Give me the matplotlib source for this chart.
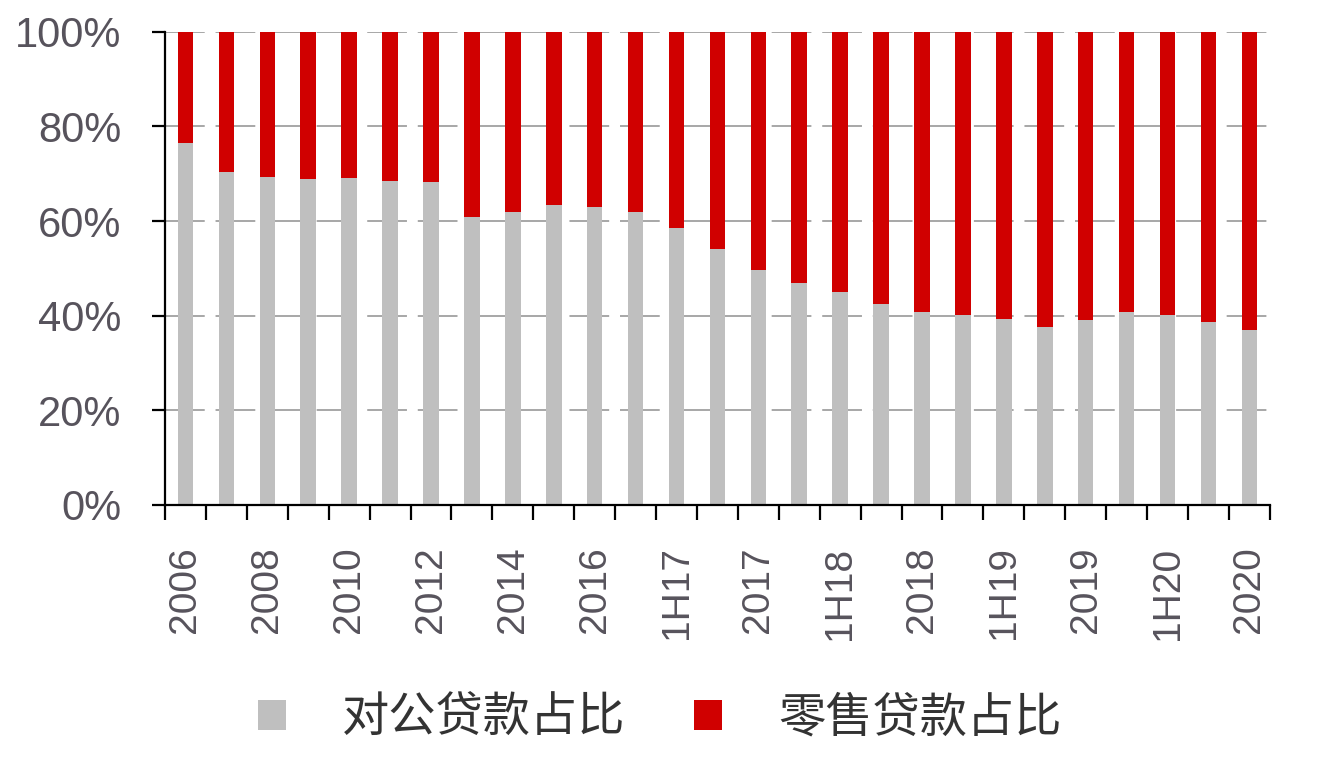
import numpy as np
import matplotlib
matplotlib.use('Agg')
import matplotlib.pyplot as plt
from matplotlib.patches import Patch

plt.rcParams['font.family'] = ['Liberation Sans', 'Noto Sans CJK SC', 'DejaVu Sans']

# 期间（隐藏标签的季度期间也作为类别）
periods = ['2006', '2007', '2008', '2009', '2010', '2011', '2012', '2013', '2014',
           '2015', '2016', '1Q17', '1H17', '3Q17', '2017', '1Q18', '1H18', '3Q18',
           '2018', '1Q19', '1H19', '3Q19', '2019', '1Q20', '1H20', '3Q20', '2020']
tick_labels = [p if i % 2 == 0 else '' for i, p in enumerate(periods)]

# 对公贷款占比 (%)
corporate = [76.5, 70.3, 69.4, 68.8, 69.1, 68.4, 68.2, 60.9, 61.9, 63.4, 62.9,
             61.9, 58.6, 54.0, 49.6, 46.9, 44.9, 42.4, 40.8, 40.1, 39.3, 37.7,
             39.0, 40.8, 40.2, 38.6, 36.9]
# 零售贷款占比 (%)
retail = [100 - v for v in corporate]

series_names = ['对公贷款占比', '零售贷款占比']
GRAY = '#BFBFBF'
RED = '#D00000'
TXT = '#57535C'

fig = plt.figure(figsize=(13.2, 7.58), dpi=100)
ax = fig.add_axes([0.125, 0.334, 0.837, 0.624])

x = np.arange(len(periods))
ax.bar(x, corporate, width=0.38, color=GRAY, zorder=2)
ax.bar(x, retail, width=0.38, bottom=corporate, color=RED, zorder=2)

ax.set_xlim(-0.5, len(periods) - 0.5)
ax.set_ylim(0, 100)

ax.set_yticks(np.arange(0, 101, 20))
ax.set_yticklabels([f'{v}%' for v in range(0, 101, 20)])
ax.yaxis.grid(True, color='#A0A0A0', linestyle=(0, (22, 6)), linewidth=1.3, zorder=1)
ax.set_axisbelow(True)

ax.set_xticks(x)
ax.set_xticklabels(tick_labels, rotation=90)
ax.set_xticks(np.arange(-0.5, len(periods), 1), minor=True)
ax.tick_params(axis='x', which='major', length=0, pad=30, labelsize=28, labelcolor=TXT)
ax.tick_params(axis='x', which='minor', length=11, width=1.6, direction='out', color='black')
ax.tick_params(axis='y', length=9.5, width=1.6, direction='out', color='black',
               labelsize=30, labelcolor=TXT, pad=22)

for side in ['top', 'right']:
    ax.spines[side].set_visible(False)
for side in ['left', 'bottom']:
    ax.spines[side].set_linewidth(1.6)
    ax.spines[side].set_color('black')

handles = [Patch(facecolor=GRAY, edgecolor='none'), Patch(facecolor=RED, edgecolor='none')]
fig.legend(handles, series_names, loc='center', bbox_to_anchor=(0.5, 0.051), ncol=2,
           frameon=False, fontsize=34, handlelength=0.58, handleheight=0.58,
           handletextpad=1.2, columnspacing=1.45, labelcolor='#333333')

fig.savefig('out.png', dpi=100, facecolor='white')
